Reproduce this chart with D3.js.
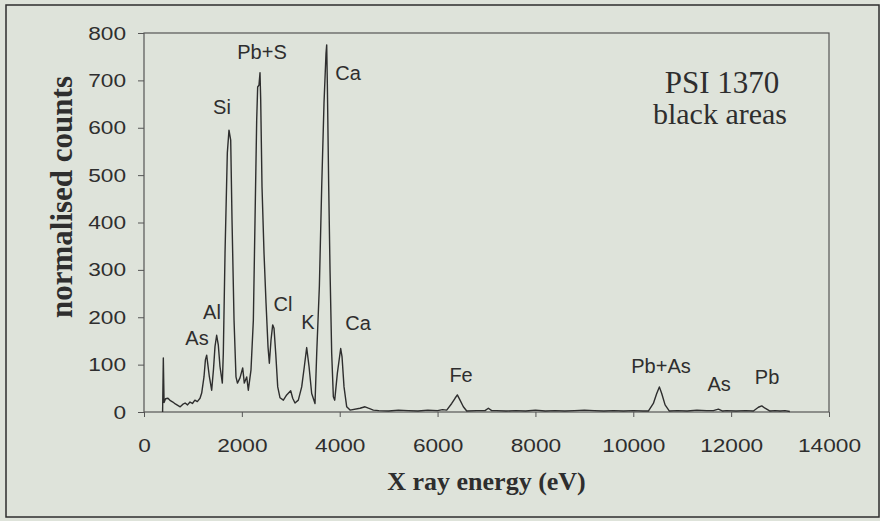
<!DOCTYPE html>
<html>
<head>
<meta charset="utf-8">
<script src="https://cdn.jsdelivr.net/npm/d3@7"></script>
<style>
  body { margin: 0; background: #dee3da; }
  svg { display: block; }
</style>
</head>
<body>
<div class="spectrum_chart"></div>
<script>
// X ray spectrum
const energy = [380, 395, 410, 440, 490, 540, 590, 640, 690, 740, 790, 840, 890, 940, 990, 1040, 1090, 1145,
  1179, 1226, 1255, 1281, 1305, 1335, 1383, 1420, 1451, 1485, 1519, 1553, 1601, 1621, 1656, 1703, 1737, 1772,
  1799, 1840, 1880, 1910, 1962, 2017, 2050, 2099, 2132, 2187, 2235, 2269, 2303, 2323, 2350, 2371, 2385, 2412,
  2453, 2494, 2535, 2562, 2596, 2630, 2657, 2692, 2733, 2780, 2848, 2916, 2998, 3039, 3086, 3154, 3223, 3277,
  3325, 3373, 3427, 3495, 3530, 3584, 3632, 3679, 3720, 3734, 3747, 3775, 3802, 3836, 3870, 3898, 3952, 4020,
  4047, 4088, 4143, 4211, 4415, 4517, 4586, 4688, 4800, 5000, 5200, 5400, 5600, 5800, 6000, 6100, 6187, 6289,
  6357, 6404, 6459, 6527, 6596, 6800, 6970, 7038, 7106, 7200, 7400, 7600, 7800, 8000, 8200, 8400, 8600, 8800,
  9000, 9200, 9400, 9600, 9800, 10000, 10200, 10308, 10410, 10479, 10533, 10581, 10650, 10738, 10900, 11100,
  11300, 11500, 11637, 11739, 11828, 11900, 12100, 12300, 12455, 12557, 12625, 12693, 12795, 12900, 13000,
  13100, 13200]
const counts = [0, 114, 20, 28, 29, 24, 21, 17, 14, 11, 16, 19, 15, 21, 18, 25, 22, 29,
  40, 74, 110, 120, 100, 75, 46, 90, 138, 162, 141, 96, 61, 124, 335, 547, 595, 574,
  405, 194, 74, 61, 72, 93, 61, 74, 46, 89, 194, 405, 616, 686, 690, 716, 659, 475,
  335, 230, 137, 103, 152, 184, 177, 124, 53, 30, 25, 36, 45, 29, 19, 25, 53, 96,
  136, 96, 39, 18, 124, 265, 476, 652, 757, 775, 694, 476, 300, 124, 32, 25, 82, 134,
  117, 53, 11, 4, 8, 11, 8, 4, 3, 2, 4, 3, 2, 4, 3, 5, 4, 18,
  29, 36, 25, 11, 2, 3, 3, 8, 3, 3, 2, 3, 2, 4, 2, 3, 2, 3,
  4, 3, 2, 3, 2, 3, 2, 2, 18, 39, 53, 39, 15, 2, 3, 2,
  4, 3, 3, 6, 2, 3, 2, 3, 2, 10, 13, 8, 2, 3, 2,
  3, 1]

const xTicks = [0, 2000, 4000, 6000, 8000, 10000, 12000, 14000]
const yTicks = [0, 100, 200, 300, 400, 500, 600, 700, 800]

const peakNames = ['As', 'Al', 'Si', 'Pb+S', 'Ca', 'Cl', 'K', 'Ca', 'Fe', 'Pb+As', 'As', 'Pb']
const peakEnergy = [1083, 1390, 1594, 2412, 4170, 2841, 3352, 4374, 6480, 10567, 11753, 12734]
const peakCount = [156, 211, 644, 760, 716, 228, 190, 188, 78, 97, 59, 74]

const width = 880
const height = 521
const margin = {left: 144, top: 33, right: 51, bottom: 109}
const ink = '#2e2e2e'

const x = d3.scaleLinear().domain([0, 14000]).range([margin.left, width - margin.right])
const y = d3.scaleLinear().domain([0, 800]).range([height - margin.bottom, margin.top])

const svg = d3.select('.spectrum_chart').append('svg')
  .attr('width', width)
  .attr('height', height)

// outer frame
svg.append('rect')
  .attr('x', 6).attr('y', 5)
  .attr('width', 873).attr('height', 512)
  .attr('fill', 'none')
  .attr('stroke', ink)
  .attr('stroke-width', 1.5)

// plot frame
svg.append('rect')
  .attr('x', x(0)).attr('y', y(800))
  .attr('width', x(14000) - x(0)).attr('height', y(0) - y(800))
  .attr('fill', 'none')
  .attr('stroke', '#555')
  .attr('stroke-width', 1.2)

const tickFont = 'Liberation Sans, Arial, sans-serif'

const xAxis = svg.append('g')
  .attr('transform', 'translate(0,' + y(0) + ')')
  .call(d3.axisBottom(x).tickValues(xTicks).tickSize(5).tickPadding(22).tickFormat(d3.format('d')))
const yAxis = svg.append('g')
  .attr('transform', 'translate(' + x(0) + ',0)')
  .call(d3.axisLeft(y).tickValues(yTicks).tickSize(6).tickPadding(12).tickFormat(d3.format('d')))

;[xAxis, yAxis].forEach((g) => {
  g.select('.domain').remove()
  g.selectAll('line').attr('stroke', '#555').attr('stroke-width', 1)
  g.selectAll('text')
    .attr('fill', ink)
    .style('font-family', tickFont)
    .style('font-size', '19px')
    .attr('textLength', function () { return this.textContent.length * 12.6 })
    .attr('lengthAdjust', 'spacingAndGlyphs')
})

// spectrum
const line = d3.line()
  .x((d) => x(d[0]))
  .y((d) => y(d[1]))

svg.append('path')
  .datum(d3.zip(energy, counts))
  .attr('d', line)
  .attr('fill', 'none')
  .attr('stroke', ink)
  .attr('stroke-width', 1.4)
  .attr('stroke-linejoin', 'round')

// peak labels
svg.append('g').selectAll('text')
  .data(d3.range(peakNames.length))
  .enter().append('text')
  .attr('x', (i) => x(peakEnergy[i]))
  .attr('y', (i) => y(peakCount[i]))
  .attr('dy', '0.36em')
  .attr('text-anchor', 'middle')
  .attr('fill', ink)
  .style('font-family', tickFont)
  .style('font-size', '20px')
  .text((i) => peakNames[i])

// sample caption
const caption = svg.append('g')
  .attr('text-anchor', 'middle')
  .attr('fill', ink)
  .style('font-family', 'Liberation Serif, Times New Roman, serif')
caption.append('text')
  .attr('x', 722).attr('y', 93)
  .style('font-size', '31px')
  .text('PSI 1370')
caption.append('text')
  .attr('x', 720).attr('y', 124)
  .style('font-size', '30px')
  .text('black areas')

// axis titles
svg.append('text')
  .attr('x', (x(0) + x(14000)) / 2 - 0).attr('y', 490)
  .attr('text-anchor', 'middle')
  .attr('fill', ink)
  .style('font-family', 'Liberation Serif, Times New Roman, serif')
  .style('font-weight', 'bold')
  .style('font-size', '26px')
  .text('X ray energy (eV)')

svg.append('text')
  .attr('transform', 'translate(72,197) rotate(-90)')
  .attr('text-anchor', 'middle')
  .attr('fill', ink)
  .style('font-family', 'Liberation Serif, Times New Roman, serif')
  .style('font-weight', 'bold')
  .style('font-size', '31px')
  .text('normalised counts')
</script>
</body>
</html>
